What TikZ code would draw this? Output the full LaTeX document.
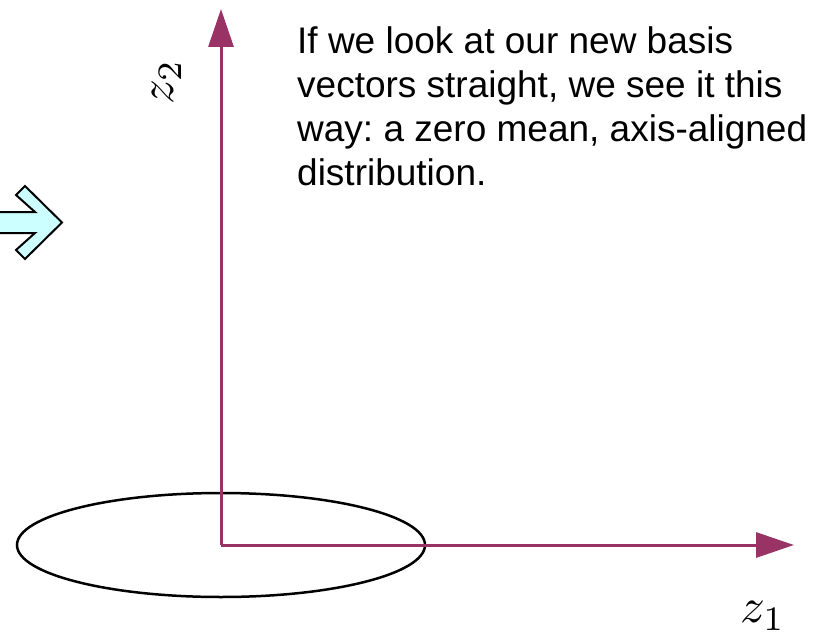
\documentclass[tikz,border=0pt]{standalone}
\usepackage{fontspec}
\setmainfont{Liberation Sans}
\usepackage{amsmath}
\usepackage{tikz}
\usetikzlibrary{arrows.meta,positioning}
\definecolor{axisplum}{HTML}{993366}
\definecolor{arrowcyan}{HTML}{CCFFFF}
\frenchspacing
\tikzset{
  axisline/.style={-{Triangle[length=38pt,width=25pt]},line width=3pt,axisplum},
  spread/.style={draw=black,line width=2.5pt},
  blockarrow/.style={draw=black,line width=2pt,fill=arrowcyan,line join=miter},
  axislabel/.style={inner sep=0pt,scale=4.9},
  notebox/.style={inner sep=0pt,align=left,font=\fontsize{37}{44}\selectfont}
}
\begin{document}
\begin{tikzpicture}[x=1pt,y=-1pt]
\clip (0,0) rectangle (822,642);
\fill[white] (0,0) rectangle (822,642);
% block arrow on the left
\draw[blockarrow] (-10,212)--(35,212)--(16,195)--(25,186)--(62,222.5)--(25,259)--(16,250)--(35,233)--(-10,233)--cycle;
% the distribution and its axes
\coordinate (origin) at (221,545);
\coordinate (z1end) at (794,545);
\coordinate (z2end) at (221,9);
\draw[spread] (origin) ellipse (204 and 52);
\draw[axisline] (origin) -- (z1end);
\draw[axisline] (origin) -- (z2end);
\node[axislabel] (z1lab) at (763,616) {$z_1$};
\node[axislabel,rotate=90] (z2lab) at (167,82) {$z_2$};
\node[notebox,anchor=north west] (note) at (297,26) {If we look at our new basis\\vectors straight, we see it this\\way: a zero mean, axis-aligned\\distribution.};
\end{tikzpicture}
\end{document}
